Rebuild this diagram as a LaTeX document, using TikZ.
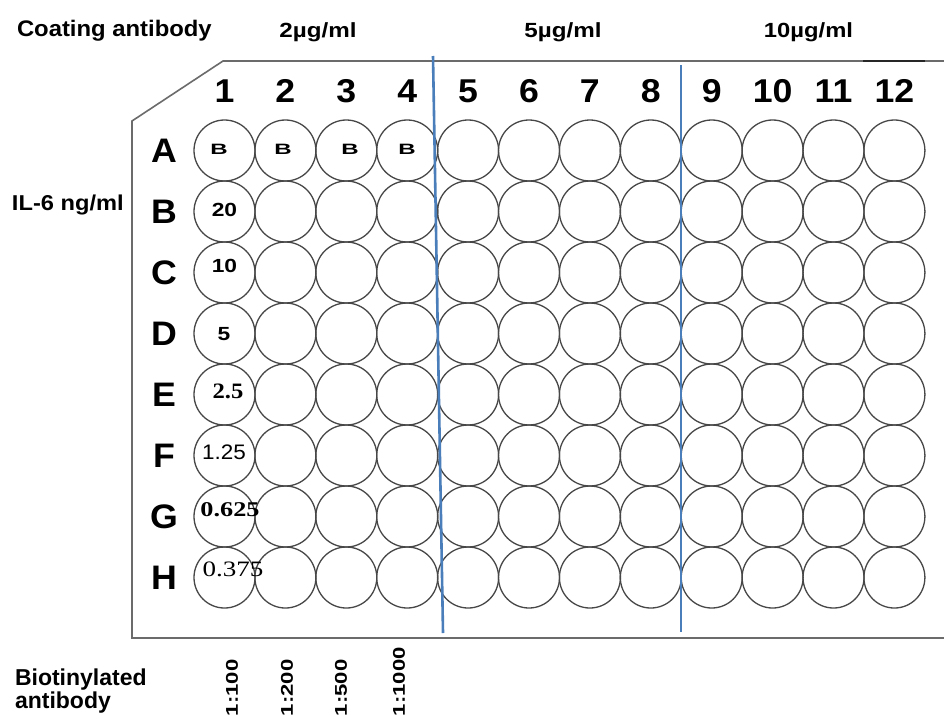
\documentclass[tikz,border=0pt]{standalone}
\usepackage{fontspec}
\setmainfont{Liberation Sans}
\newfontfamily\serifnum{Liberation Serif}
\usepackage{graphicx}
\definecolor{sepblue}{RGB}{74,126,187}
\newcommand{\sx}[2]{\scalebox{#1}[1]{#2}}
\newcommand{\fs}[1]{\fontsize{#1}{#1}\selectfont}
\begin{document}
\begin{tikzpicture}[x=1pt,y=-1pt,
  well/.style={circle,draw=black!72,line width=1.3pt,minimum size=61pt,inner sep=0pt},
  lbl/.style={inner sep=0pt,outer sep=0pt},
  plate/.style={draw=black!58,line width=1.6pt},
  sepline/.style={draw=sepblue,line width=2.6pt}]
\useasboundingbox[fill=white] (0,0) rectangle (944,718);

% plate outline
\coordinate (pbl) at (132,638);
\coordinate (ptl) at (132,121);
\coordinate (pcut) at (223,61);
\coordinate (ptr) at (960,61);
\coordinate (pbr) at (960,638);
\draw[plate] (ptr) -- (pcut) -- (ptl) -- (pbl) -- (pbr);
\coordinate (mk1) at (863,61);
\coordinate (mk2) at (925,61);
\draw[black!85,line width=2.4pt] (mk1) -- (mk2);

% wells
\foreach \r [count=\i from 0] in {A,B,C,D,E,F,G,H} {
  \foreach \c in {1,...,12} {
    \node[well] (w-\r-\c) at ({224.5+60.9*(\c-1)},{150.5+61*\i}) {};
  }
  \node[lbl,anchor=base] (r-\r) at (164,{162+61*\i}) {\sx{1.05}{\fs{34}\bfseries \r}};
}
\foreach \c in {1,...,12} {
  \node[lbl,anchor=base] (c-\c) at ({224.5+60.9*(\c-1)},102) {\sx{1.08}{\fs{33}\bfseries \c}};
}

% separators
\coordinate (s1t) at (433,56);
\coordinate (s1b) at (443,633);
\coordinate (s2t) at (681,65);
\coordinate (s2b) at (681,632);
\draw[sepline] (s1t) -- (s1b);
\draw[sepline] (s2t) -- (s2b);

% headers
\node[lbl,anchor=base west] (hcoat) at (17,36) {\sx{1.06}{\fs{22.5}\bfseries Coating antibody}};
\node[lbl,anchor=base] (h2) at (318,37) {\sx{1.18}{\fs{20.5}\bfseries 2µg/ml}};
\node[lbl,anchor=base] (h5) at (563,37) {\sx{1.18}{\fs{20.5}\bfseries 5µg/ml}};
\node[lbl,anchor=base] (h10) at (808.5,37) {\sx{1.16}{\fs{20.5}\bfseries 10µg/ml}};
\node[lbl,anchor=base west] (hil) at (12,210) {\sx{1.1}{\fs{21.5}\bfseries IL-6 ng/ml}};
\node[lbl,anchor=base west] (hbio) at (15,685) {\fs{23}\bfseries Biotinylated};
\node[lbl,anchor=base west] (hab) at (15,708) {\fs{23}\bfseries antibody};

% dilutions
\node[lbl,rotate=90,anchor=west] (d1) at (232,716) {\sx{1.3}{\fs{17}\bfseries 1:100}};
\node[lbl,rotate=90,anchor=west] (d2) at (287,716) {\sx{1.3}{\fs{17}\bfseries 1:200}};
\node[lbl,rotate=90,anchor=west] (d3) at (341,716) {\sx{1.3}{\fs{17}\bfseries 1:500}};
\node[lbl,rotate=90,anchor=west] (d4) at (399,716) {\sx{1.3}{\fs{17}\bfseries 1:1000}};

% well contents
\node[lbl] (bA1) at (219,149) {\sx{1.6}{\fs{15}\bfseries B}};
\node[lbl] (bA2) at (283,149) {\sx{1.6}{\fs{15}\bfseries B}};
\node[lbl] (bA3) at (350,149) {\sx{1.6}{\fs{15}\bfseries B}};
\node[lbl] (bA4) at (407,149) {\sx{1.6}{\fs{15}\bfseries B}};
\node[lbl] (nB) at (224.5,210) {\sx{1.2}{\fs{19}\bfseries 20}};
\node[lbl] (nC) at (224.5,266) {\sx{1.2}{\fs{19}\bfseries 10}};
\node[lbl] (nD) at (224,334) {\sx{1.2}{\fs{19}\bfseries 5}};
\node[lbl] (nE) at (228,391) {\sx{1.12}{\fs{22}\serifnum\bfseries 2.5}};
\node[lbl] (nF) at (224,452) {\sx{1.07}{\fs{21}1.25}};
\node[lbl] (nG) at (230,510) {\sx{1.25}{\fs{21}\serifnum\bfseries 0.625}};
\node[lbl] (nH) at (233,569) {\sx{1.23}{\fs{22}\serifnum 0.375}};
\end{tikzpicture}
\end{document}
